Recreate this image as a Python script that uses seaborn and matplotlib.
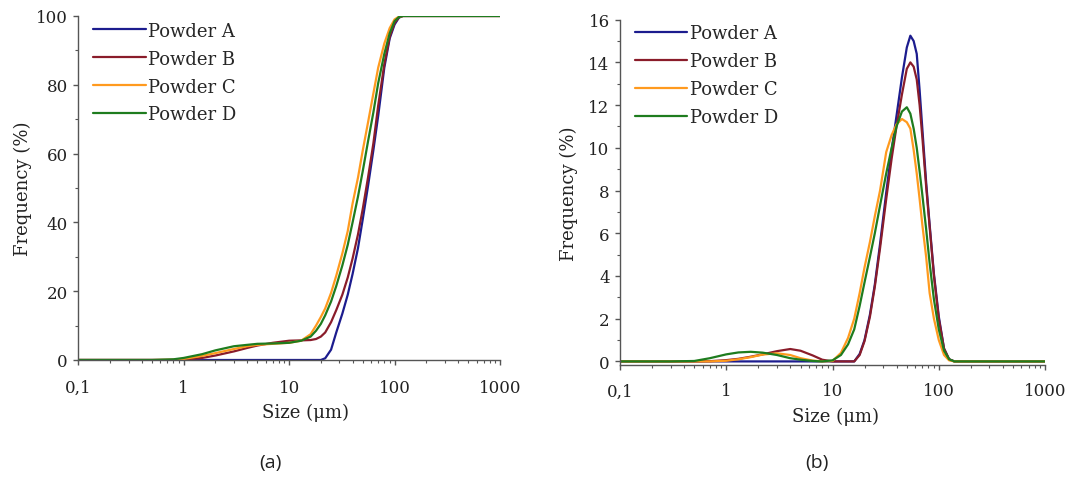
import matplotlib
matplotlib.use("Agg")
import matplotlib.pyplot as plt
import numpy as np
import pandas as pd
import seaborn as sns
from matplotlib.ticker import LogLocator, MultipleLocator, NullFormatter, FixedFormatter, FixedLocator

POWDERS = ["Powder A", "Powder B", "Powder C", "Powder D"]
COLORS = ["#1c1c8e", "#8a1c2a", "#ff9a1e", "#1e7c1e"]

X_TICKS = [0.1, 1, 10, 100, 1000]
X_TICK_LABELS = ["0,1", "1", "10", "100", "1000"]

# (a) cumulative curves
SIZE_CUM = [0.1, 0.5, 0.8, 1, 1.5, 2, 3, 4, 5, 7, 10, 13, 16, 18, 20, 22, 25,
            28, 32, 36, 40, 45, 50, 56, 63, 70, 80, 90, 100, 110, 120, 150, 1000]
CUM_A = [0, 0, 0, 0, 0, 0, 0, 0, 0, 0, 0, 0, 0, 0, 0, 0.5, 3,
         8, 13.5, 19, 25, 32.5, 41, 50.5, 61, 71, 85, 93.5, 97.5, 99.5, 100, 100, 100]
CUM_B = [0, 0, 0, 0.1, 0.6, 1.3, 2.5, 3.5, 4.2, 5.0, 5.6, 5.7, 5.8, 6.1, 6.8, 8, 11,
         14.5, 19, 24, 29.5, 36.5, 44, 53, 63, 74, 86, 94, 98, 99.6, 100, 100, 100]
CUM_C = [0, 0, 0.1, 0.3, 1.2, 2.0, 3.2, 4.0, 4.4, 4.7, 5.0, 5.6, 7.5, 10, 12.5, 15, 19.5,
         24.5, 31, 37.5, 45.5, 53, 61, 69, 77.5, 85, 92, 96.5, 99, 99.8, 100, 100, 100]
CUM_D = [0, 0, 0.2, 0.6, 1.7, 2.8, 4.0, 4.4, 4.7, 4.8, 5.0, 5.6, 6.8, 8.5, 10.5, 13, 17,
         21.5, 27.5, 33.5, 40, 47.5, 55, 63.5, 72, 80.5, 89, 95, 98.5, 99.7, 100, 100, 100]

# (b) frequency curves
SIZE_FREQ = [0.1, 0.3, 0.5, 0.7, 1.0, 1.3, 1.7, 2.2, 3.0, 4.0, 5.0, 6.5, 8.0, 10, 12, 14, 16,
             18, 20, 22.5, 25, 28, 32, 36, 40, 45, 50, 54, 58, 62, 66, 70, 76, 82, 90,
             100, 112, 125, 140, 160, 1000]
FREQ_A = [0, 0, 0, 0, 0, 0, 0, 0, 0, 0, 0, 0, 0, 0, 0, 0, 0,
          0.35, 1.0, 2.2, 3.6, 5.5, 7.9, 9.9, 11.5, 13.3, 14.7, 15.25, 15.0, 14.4, 12.7, 10.9,
          8.4, 6.4, 4.1, 2.1, 0.6, 0.1, 0, 0, 0]
FREQ_B = [0, 0, 0, 0.01, 0.06, 0.12, 0.22, 0.33, 0.48, 0.58, 0.5, 0.28, 0.08, 0, 0, 0, 0,
          0.3, 0.95, 2.1, 3.5, 5.3, 7.6, 9.5, 11.0, 12.5, 13.7, 14.0, 13.8, 13.2, 12.0, 10.5,
          8.2, 6.3, 4.0, 2.0, 0.6, 0.1, 0, 0, 0]
FREQ_C = [0, 0, 0, 0, 0.03, 0.1, 0.2, 0.32, 0.38, 0.3, 0.15, 0.04, 0, 0.02, 0.4, 1.1, 2.0,
          3.2, 4.4, 5.6, 6.8, 8.0, 9.8, 10.6, 11.1, 11.35, 11.2, 10.9, 9.9, 8.8, 7.6, 6.4,
          4.9, 3.2, 2.0, 1.0, 0.3, 0.05, 0, 0, 0]
FREQ_D = [0, 0, 0.02, 0.15, 0.33, 0.42, 0.45, 0.41, 0.3, 0.15, 0.08, 0.02, 0, 0.05, 0.3, 0.8, 1.5,
          2.6, 3.7, 4.9, 6.0, 7.3, 8.8, 10.0, 11.0, 11.7, 11.9, 11.6, 10.9, 10.0, 8.9, 7.8,
          6.2, 4.6, 2.9, 1.5, 0.5, 0.1, 0, 0, 0]


def long_frame(sizes, series):
    rows = []
    for name, vals in zip(POWDERS, series):
        rows.append(pd.DataFrame({"size": sizes, "value": vals, "powder": name}))
    return pd.concat(rows, ignore_index=True)


sns.set_theme(style="ticks")
plt.rcParams["font.family"] = ["DejaVu Serif"]
plt.rcParams["mathtext.fontset"] = "dejavuserif"

fig = plt.figure(figsize=(10.69, 4.81), dpi=100)
ax_a = fig.add_axes([0.0732, 0.2495, 0.3945, 0.7152])
ax_b = fig.add_axes([0.5800, 0.2390, 0.3976, 0.7180])

# axes, data, ylim, major step, minor step, x tick pad, legend top
panels = [
    (ax_a, long_frame(SIZE_CUM, [CUM_A, CUM_B, CUM_C, CUM_D]), (0, 100), 20, 10, 10, 1.015),
    (ax_b, long_frame(SIZE_FREQ, [FREQ_A, FREQ_B, FREQ_C, FREQ_D]), (-0.17, 16), 2, 1, 9, 1.018),
]

for ax, df, ylim, ystep, yminor, xpad, leg_top in panels:
    sns.lineplot(data=df, x="size", y="value", hue="powder", palette=COLORS,
                 estimator=None, linewidth=1.6, ax=ax)
    ax.set_xscale("log")
    ax.set_xlim(0.1, 1000)
    ax.xaxis.set_major_locator(FixedLocator(X_TICKS))
    ax.xaxis.set_major_formatter(FixedFormatter(X_TICK_LABELS))
    ax.xaxis.set_minor_locator(LogLocator(base=10, subs=np.arange(2, 10), numticks=20))
    ax.xaxis.set_minor_formatter(NullFormatter())
    ax.set_yticks(np.arange(0, ylim[1] + 0.1, ystep))
    ax.yaxis.set_minor_locator(MultipleLocator(yminor))
    ax.set_ylim(*ylim)
    sns.despine(ax=ax)
    for side in ("left", "bottom"):
        ax.spines[side].set_color("#555555")
        ax.spines[side].set_linewidth(1.0)
    ax.tick_params(which="major", direction="out", length=3.5, width=1.0,
                   color="#555555", labelsize=12, labelcolor="#222222", pad=4)
    ax.tick_params(axis="x", which="major", pad=xpad)
    ax.tick_params(which="minor", direction="out", length=2, width=0.8, color="#555555")
    ax.set_xlabel("Size (μm)", fontsize=13, color="#222222")
    ax.set_ylabel("Frequency (%)", fontsize=13, color="#222222")
    ax.legend(loc="upper left", frameon=False, fontsize=13, handlelength=2.9,
              handletextpad=0.15, labelspacing=0.55, borderaxespad=0.2,
              bbox_to_anchor=(0.01, leg_top))

ax_a.xaxis.set_label_coords(0.54, -0.125)
ax_a.yaxis.set_label_coords(-0.11, 0.5)
ax_b.xaxis.set_label_coords(0.508, -0.12)
ax_b.yaxis.set_label_coords(-0.10, 0.5)

fig.text(0.253, 0.037, "(a)", ha="center", va="center", fontsize=14,
         family=["Open Sans", "DejaVu Sans"], color="#222222")
fig.text(0.764, 0.037, "(b)", ha="center", va="center", fontsize=14,
         family=["Open Sans", "DejaVu Sans"], color="#222222")

fig.savefig("out.png", dpi=100, facecolor="white")
